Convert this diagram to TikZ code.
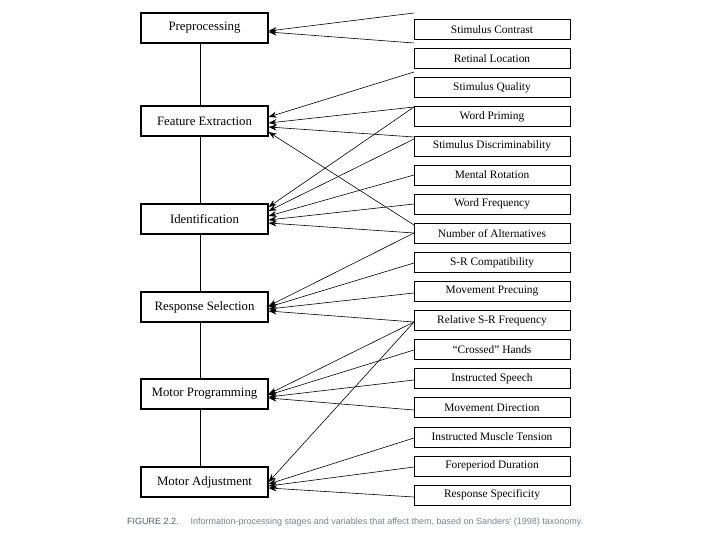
\documentclass[tikz,border=0pt]{standalone}
\usepackage{fontspec}
\setmainfont{Liberation Serif}
\newfontfamily\capfont{Liberation Sans}
\usetikzlibrary{arrows.meta}
\definecolor{capdark}{HTML}{555B66}
\definecolor{caplight}{HTML}{7A8290}
\tikzset{
  stage/.style={draw=black, line width=1.2pt, minimum width=127pt, minimum height=30pt, inner sep=0pt, anchor=center, font=\fontsize{12.8}{14}\selectfont},
  varbox/.style={draw=black, line width=0.7pt, minimum width=156pt, minimum height=20pt, inner sep=0pt, anchor=center, font=\fontsize{11.4}{12}\selectfont},
  link/.style={line width=0.6pt, -{Stealth[length=8pt,width=6pt]}},
  spine/.style={line width=0.7pt}
}
\begin{document}
\begin{tikzpicture}[x=1pt,y=-1pt]
\fill[white] (0,0) rectangle (720,540);
\useasboundingbox (0,0) rectangle (720,540);
% stages
\node[stage] (pre) at (204.5,28) {Preprocessing};
\node[stage] (fe)  at (204.5,121) {Feature Extraction};
\node[stage] (id)  at (204.5,219) {Identification};
\node[stage] (rs)  at (204.5,307) {Response Selection};
\node[stage] (mp)  at (204.5,394) {Motor Programming};
\node[stage] (ma)  at (204.5,482) {Motor Adjustment};
% spine
\draw[spine] ([xshift=-4.5pt]pre.south) -- ([xshift=-4.5pt]fe.north);
\draw[spine] ([xshift=-4.5pt]fe.south) -- ([xshift=-4.5pt]id.north);
\draw[spine] ([xshift=-4.5pt]id.south) -- ([xshift=-4.5pt]rs.north);
\draw[spine] ([xshift=-4.5pt]rs.south) -- ([xshift=-4.5pt]mp.north);
\draw[spine] ([xshift=-4.5pt]mp.south) -- ([xshift=-4.5pt]ma.north);
% variables
\node[varbox] (v1)  at (492,29.5) {Stimulus Contrast};
\node[varbox] (v2)  at (492,58.6) {Retinal Location};
\node[varbox] (v3)  at (492,87.7) {Stimulus Quality};
\node[varbox] (v4)  at (492,116.8) {Word Priming};
\node[varbox] (v5)  at (492,145.9) {Stimulus Discriminability};
\node[varbox] (v6)  at (492,175.0) {Mental Rotation};
\node[varbox] (v7)  at (492,204.1) {Word Frequency};
\node[varbox] (v8)  at (492,233.2) {Number of Alternatives};
\node[varbox] (v9)  at (492,262.3) {S-R Compatibility};
\node[varbox] (v10) at (492,291.4) {Movement Precuing};
\node[varbox] (v11) at (492,320.5) {Relative S-R Frequency};
\node[varbox] (v12) at (492,349.6) {``Crossed'' Hands};
\node[varbox] (v13) at (492,378.7) {Instructed Speech};
\node[varbox] (v14) at (492,407.8) {Movement Direction};
\node[varbox] (v15) at (492,436.9) {Instructed Muscle Tension};
\node[varbox] (v16) at (492,466.0) {Foreperiod Duration};
\node[varbox] (v17) at (492,495.1) {Response Specificity};
% line ends at the variable column
\coordinate (e13)  at (414,13);
\coordinate (e43)  at (414,43);
\coordinate (e72)  at (414,72);
\coordinate (e107) at (414,107);
\coordinate (e137) at (414,137);
\coordinate (e139) at (414,139);
\coordinate (e175) at (414,175);
\coordinate (e204) at (414,204);
\coordinate (e225) at (414,225);
\coordinate (e233) at (414,233);
\coordinate (e263) at (414,263);
\coordinate (e293) at (414,293);
\coordinate (e322) at (414,322);
\coordinate (e350) at (414,350);
\coordinate (e380) at (414,380);
\coordinate (e410) at (414,410);
\coordinate (e438) at (414,438);
\coordinate (e467) at (414,467);
\coordinate (e497) at (414,497);
% Preprocessing
\draw[link] (e13) -- ([yshift=-3pt]pre.east);
\draw[link] (e43) -- ([yshift=-4pt]pre.east);
% Feature Extraction
\draw[link] (e72)  -- ([yshift=4pt]fe.east);
\draw[link] (e107) -- ([yshift=-2pt]fe.east);
\draw[link] (e137) -- ([yshift=-6pt]fe.east);
\draw[link] (e225) -- ([yshift=-11pt]fe.east);
% Identification
\draw[link] (e107) -- ([yshift=12pt]id.east);
\draw[link] (e139) -- ([yshift=8pt]id.east);
\draw[link] (e175) -- ([yshift=3pt]id.east);
\draw[link] (e204) -- ([yshift=-1pt]id.east);
\draw[link] (e233) -- ([yshift=-4pt]id.east);
% Response Selection
\draw[link] (e233) -- ([yshift=1pt]rs.east);
\draw[link] (e263) -- ([yshift=0pt]rs.east);
\draw[link] (e293) -- ([yshift=-2pt]rs.east);
\draw[link] (e322) -- ([yshift=-4pt]rs.east);
% Motor Programming
\draw[link] (e322) -- ([yshift=0pt]mp.east);
\draw[link] (e350) -- ([yshift=-1pt]mp.east);
\draw[link] (e380) -- ([yshift=-3pt]mp.east);
\draw[link] (e410) -- ([yshift=-4pt]mp.east);
% Motor Adjustment
\draw[link] (e322) -- ([yshift=0pt]ma.east);
\draw[link] (e438) -- ([yshift=-2pt]ma.east);
\draw[link] (e467) -- ([yshift=-4pt]ma.east);
\draw[link] (e497) -- ([yshift=-6pt]ma.east);
% caption
\node[anchor=west, inner sep=0pt, font=\capfont\fontsize{9}{11}\selectfont] (cap) at (127,522)
  {\textcolor{capdark}{FIGURE 2.2.}\hspace{12pt}\textcolor{caplight}{Information-processing stages and variables that affect them, based on Sanders' (1998) taxonomy.}};
\end{tikzpicture}
\end{document}
